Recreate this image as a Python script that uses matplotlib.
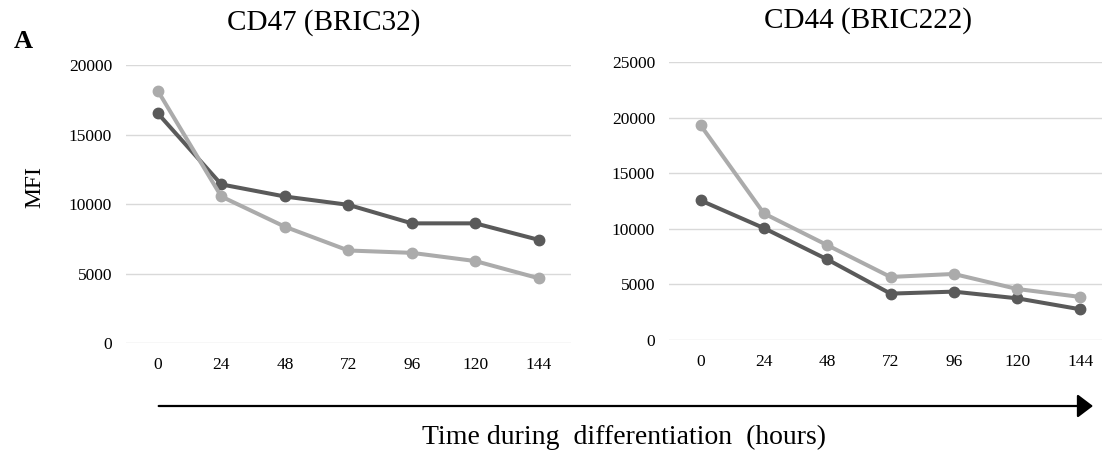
import numpy as np
import matplotlib
matplotlib.use("Agg")
import matplotlib.pyplot as plt

plt.rcParams['font.family'] = ['Liberation Serif', 'DejaVu Serif']

hours = ['0', '24', '48', '72', '96', '120', '144']

# CD47 (BRIC32)
cd47_dark = [16530, 11420, 10550, 9950, 8620, 8620, 7430]
cd47_light = [18150, 10550, 8380, 6670, 6500, 5910, 4670]

# CD44 (BRIC222)
cd44_dark = [12550, 10060, 7250, 4170, 4350, 3750, 2760]
cd44_light = [19310, 11380, 8530, 5670, 5940, 4590, 3870]

dark = '#5a5a5a'
light = '#ababab'
grid_c = '#d9d9d9'

W, H = 1102, 455
fig = plt.figure(figsize=(W / 100, H / 100), dpi=100)


def px(x0, y_bottom, x1, y_top):
    # pixel box -> figure fraction
    return [x0 / W, 1 - y_bottom / H, (x1 - x0) / W, (y_bottom - y_top) / H]


def panel(ax, d_vals, l_vals, ymax):
    x = np.arange(len(hours))
    ax.plot(x, d_vals, color=dark, lw=2.9, marker='o', ms=7.5, zorder=3)
    ax.plot(x, l_vals, color=light, lw=2.9, marker='o', ms=7.5, zorder=3)
    ax.set_xlim(-0.5, 6.5)
    ax.set_ylim(0, ymax)
    ax.set_yticks(np.arange(0, ymax + 1, 5000))
    ax.set_xticks(x)
    ax.set_xticklabels(hours)
    ax.grid(axis='y', color=grid_c, lw=1.0)
    ax.set_axisbelow(True)
    for s in ax.spines.values():
        s.set_visible(False)
    ax.tick_params(axis='both', length=0, labelsize=12.5)
    ax.tick_params(axis='y', pad=10)
    ax.tick_params(axis='x', pad=10)


ax1 = fig.add_axes(px(126, 343.3, 570.7, 65))
panel(ax1, cd47_dark, cd47_light, 20000)

ax2 = fig.add_axes(px(669, 340, 1112, 62))
panel(ax2, cd44_dark, cd44_light, 25000)

fig.text(324 / W, 1 - 23 / H, 'CD47 (BRIC32)', ha='center', va='center', fontsize=21)
fig.text(868 / W, 1 - 21 / H, 'CD44 (BRIC222)', ha='center', va='center', fontsize=21)
fig.text(23.5 / W, 1 - 41 / H, 'A', ha='center', va='center', fontsize=19, fontweight='bold')
fig.text(35 / W, 1 - 187.5 / H, 'MFI', ha='center', va='center', fontsize=17, rotation=90)

# time arrow under both panels
fig.add_artist(matplotlib.patches.FancyArrowPatch(
    (158.7 / W, 1 - 406 / H), (1093 / W, 1 - 406 / H),
    transform=fig.transFigure, arrowstyle='-|>,head_length=0.95,head_width=0.72',
    mutation_scale=10, color='black', lw=1.6, shrinkA=0, shrinkB=0))
fig.text(624 / W, 1 - 437 / H, 'Time during  differentiation  (hours)', ha='center', va='center', fontsize=20)

fig.savefig('out.png', dpi=100)
